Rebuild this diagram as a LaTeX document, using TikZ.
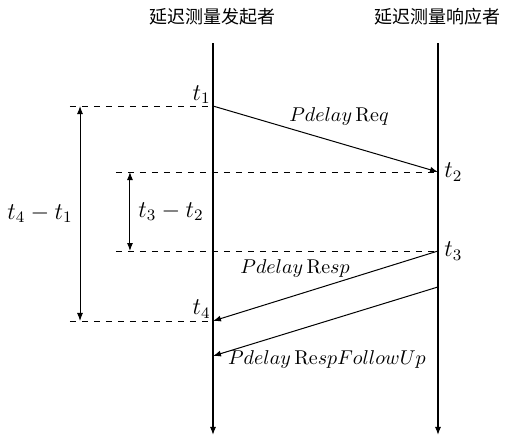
\documentclass[tikz,border=0pt]{standalone}
\usepackage{amsmath,amssymb}
\usepackage{fontspec}
\newfontfamily\cjk{Noto Sans CJK SC}
\usetikzlibrary{arrows.meta,positioning}

\begin{document}
\begin{tikzpicture}[
    lifeline/.style={line width=0.55pt,-{Latex[length=4pt,width=3pt]}},
    msg/.style={line width=0.5pt,-{Latex[length=4pt,width=3pt]}},
    guide/.style={dashed},
    interval/.style={line width=0.5pt,{Latex[length=4pt,width=3pt]}-{Latex[length=4pt,width=3pt]}},
    party/.style={font=\cjk\fontsize{9}{11}\selectfont},
    stamp/.style={font=\large,inner sep=1pt}]
    \useasboundingbox (0,0) rectangle (8.892,-7.697);
    % the two parties
    \node[party] (init) at (3.743,-0.299) {延迟测量发起者};
    \node[party] (resp) at (7.697,-0.299) {延迟测量响应者};
    \coordinate (initTop) at (3.743,-0.756);
    \coordinate (initEnd) at (3.743,-7.644);
    \coordinate (respTop) at (7.697,-0.756);
    \coordinate (respEnd) at (7.697,-7.644);
    \draw[lifeline] (initTop) -- (initEnd);
    \draw[lifeline] (respTop) -- (respEnd);
    % time stamps
    \coordinate (t1) at (3.743,-1.863);
    \coordinate (t2) at (7.697,-3.023);
    \coordinate (t3) at (7.697,-4.411);
    \coordinate (t4) at (3.743,-5.641);
    \coordinate (fu0) at (7.697,-5.043);
    \coordinate (fu1) at (3.743,-6.256);
    \node[stamp,above left] (t1lab) at (t1) {$t_1$};
    \node[stamp,right=2pt] (t2lab) at (t2) {$t_2$};
    \node[stamp,right=2pt] (t3lab) at (t3) {$t_3$};
    \node[stamp,above left] (t4lab) at (t4) {$t_4$};
    % messages
    \draw[msg] (t1) -- (t2);
    \draw[msg] (t3) -- (t4);
    \draw[msg] (fu0) -- (fu1);
    \node (req) at (5.957,-2.056) {$Pdelay\,\mathrm{Re}q$};
    \node (rsp) at (5.184,-4.710) {$Pdelay\,\mathrm{Re}sp$};
    \node (fup) at (5.746,-6.326) {$Pdelay\,\mathrm{Re}spFollowUp$};
    % dashed guides
    \coordinate (g1) at (1.230,-1.863);
    \coordinate (g2) at (2.038,-3.023);
    \coordinate (g3) at (2.038,-4.411);
    \coordinate (g4) at (1.230,-5.641);
    \draw[guide] (g1) -- (t1);
    \draw[guide] (g2) -- (t2);
    \draw[guide] (g3) -- (t3);
    \draw[guide] (g4) -- (t4);
    % intervals
    \coordinate (d1a) at (1.406,-1.863);
    \coordinate (d1b) at (1.406,-5.641);
    \coordinate (d2a) at (2.284,-3.023);
    \coordinate (d2b) at (2.284,-4.411);
    \draw[interval] (d1a) -- (d1b);
    \draw[interval] (d2a) -- (d2b);
    \node[stamp,left,inner sep=3.5pt] (w41) at (1.406,-3.752) {$t_4-t_1$};
    \node[stamp,right,inner sep=4pt] (w32) at (2.284,-3.717) {$t_3-t_2$};
\end{tikzpicture}
\end{document}
